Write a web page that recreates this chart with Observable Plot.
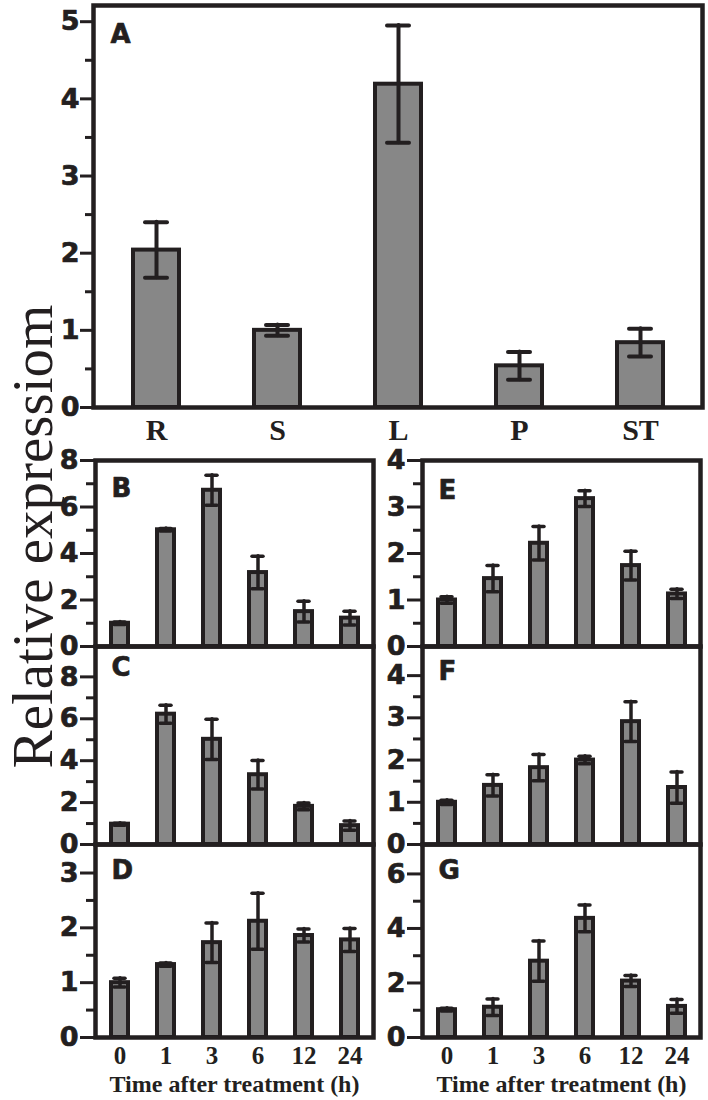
<!DOCTYPE html>
<html><head><meta charset="utf-8">
<script src="https://cdn.jsdelivr.net/npm/d3@7"></script>
<script src="https://cdn.jsdelivr.net/npm/@observablehq/plot@0.6"></script>
<style>
body{margin:0;background:#fff;}
#fig{position:relative;width:708px;height:1100px;overflow:hidden;background:#fff;}
#fig svg{position:absolute;}
</style></head><body><div id="fig"></div>
<script>
const INK = "#231f20";
const FILL = "#878787";

// Panel A: tissues
const tissues = ["R", "S", "L", "P", "ST"];
const tissueMean = [2.04, 1.00, 4.19, 0.54, 0.84];
const tissueErr  = [0.36, 0.07, 0.76, 0.18, 0.18];

// Panels B–G: time course
const times = ["0", "1", "3", "6", "12", "24"];
const meanB = [1.00, 5.02, 6.72, 3.18, 1.50, 1.22];
const errB  = [0.05, 0.05, 0.65, 0.70, 0.45, 0.30];
const meanC = [0.97, 6.22, 5.02, 3.33, 1.82, 0.90];
const errC  = [0.05, 0.43, 0.96, 0.68, 0.16, 0.22];
const meanD = [1.00, 1.33, 1.73, 2.12, 1.86, 1.78];
const errD  = [0.08, 0.03, 0.36, 0.51, 0.12, 0.21];
const meanE = [1.00, 1.46, 2.22, 3.18, 1.74, 1.13];
const errE  = [0.07, 0.28, 0.36, 0.17, 0.31, 0.10];
const meanF = [1.00, 1.40, 1.82, 2.00, 2.91, 1.35];
const errF  = [0.05, 0.25, 0.31, 0.09, 0.47, 0.37];
const meanG = [1.02, 1.11, 2.80, 4.37, 2.07, 1.14];
const errG  = [0.05, 0.30, 0.74, 0.49, 0.20, 0.25];

const yTitle = "Relative expressiom";
const xTitle = "Time after treatment (h)";

function rows(cats, means, errs) {
  return cats.map((c, i) => ({c, v: means[i], lo: means[i] - errs[i], hi: means[i] + errs[i]}));
}

const SANS = "DejaVu Sans, Liberation Sans, Arial, sans-serif";
const SERIF = "Liberation Serif, Times New Roman, serif";

function panel(cfg) {
  const data = rows(cfg.cats, cfg.means, cfg.errs);
  const fw = cfg.frameW, fh = cfg.frameH;
  const width = cfg.mL + fw + cfg.mR;
  const height = cfg.mT + fh + cfg.mB;
  const marks = [
    Plot.barY(data, {x: "c", y: "v", fill: FILL, stroke: INK, strokeWidth: cfg.barSW}),
    Plot.ruleX(data, {x: "c", y1: "lo", y2: "hi", stroke: INK, strokeWidth: cfg.errSW, strokeLinecap: "round"}),
    Plot.tickY(data, {x: "c", y: "hi", stroke: INK, strokeWidth: cfg.errSW, strokeLinecap: "round", inset: cfg.capInset}),
    Plot.tickY(data, {x: "c", y: "lo", stroke: INK, strokeWidth: cfg.errSW, strokeLinecap: "round", inset: cfg.capInset}),
    Plot.frame({stroke: INK, strokeWidth: 4.5}),
    Plot.axisY({ticks: cfg.minor, tickSize: cfg.minorSize, fill: "none", stroke: INK, strokeWidth: 3, label: null}),
    Plot.axisY({ticks: cfg.major, tickSize: cfg.majorSize, tickPadding: cfg.tickPad, stroke: INK, strokeWidth: 3,
      fill: INK, textStroke: INK, textStrokeWidth: 0.7, fontSize: cfg.yFont, fontWeight: "bold", fontFamily: SANS,
      tickFormat: d => String(d), label: null}),
    Plot.text([cfg.letter], {frameAnchor: "top-left", dx: cfg.letterDx, dy: cfg.letterDy, textAnchor: "start",
      lineAnchor: "middle", fontSize: 26, fontWeight: "bold", fontFamily: SANS, fill: INK,
      stroke: INK, strokeWidth: 0.7})
  ];
  if (cfg.showX) {
    marks.push(Plot.axisX({tickSize: 0, tickPadding: cfg.xPad, fill: INK, fontSize: cfg.xFont, fontWeight: "bold",
      fontFamily: SERIF, label: null}));
  }
  if (cfg.xTitle) {
    marks.push(Plot.text([cfg.xTitle], {frameAnchor: "bottom", dy: cfg.xTitleDy, lineAnchor: "middle",
      fontSize: 24, fontWeight: "bold", fontFamily: SERIF, fill: INK}));
  }
  if (cfg.yTitle) {
    marks.push(Plot.text([cfg.yTitle], {frameAnchor: "left", dx: cfg.yTitleDx, dy: cfg.yTitleDy, rotate: -90,
      textAnchor: "middle", lineAnchor: "middle", fontSize: 57, fontFamily: SERIF, fill: INK}));
  }
  const chart = Plot.plot({
    width, height,
    marginLeft: cfg.mL, marginRight: cfg.mR, marginTop: cfg.mT, marginBottom: cfg.mB,
    style: {background: "transparent", overflow: "visible", color: INK},
    x: {type: "band", domain: cfg.cats, paddingInner: cfg.pIn, paddingOuter: cfg.pIn / 2, label: null,
        axis: cfg.showX ? undefined : null},
    y: {domain: cfg.domainY, label: null},
    marks
  });
  chart.style.left = (cfg.left - cfg.mL) + "px";
  chart.style.top = (cfg.top - cfg.mT) + "px";
  document.getElementById("fig").appendChild(chart);
}

// Panel A
panel({cats: tissues, means: tissueMean, errs: tissueErr,
  left: 93, top: 5, frameW: 609, frameH: 402, mL: 93, mR: 6, mT: 5, mB: 43,
  domainY: [0, 5.21], major: [0, 1, 2, 3, 4, 5], minor: [0.5, 1.5, 2.5, 3.5, 4.5],
  majorSize: 13, minorSize: 8, tickPad: 1, yFont: 27,
  letter: "A", letterDx: 17, letterDy: 29,
  pIn: 0.62, barSW: 4, errSW: 4, capInset: 12,
  showX: true, xPad: 11.5, xFont: 30});

const colL = {left: 95, frameW: 278, mL: 95, mR: 7};
const colR = {left: 422, frameW: 278, mL: 42, mR: 8};
const rowsY = [
  {top: 460, frameH: 186},
  {top: 646, frameH: 198},
  {top: 844, frameH: 193}
];
const common = {cats: times, pIn: 0.634, barSW: 4, errSW: 3.5, capInset: 3, majorSize: 15, minorSize: 9,
  tickPad: 2, yFont: 27, letterDx: 16, mT: 20, xPad: 8.75, xFont: 25};

panel({...common, ...colL, ...rowsY[0], mB: 20, means: meanB, errs: errB,
  domainY: [0, 8], major: [0, 2, 4, 6, 8], minor: [1, 3, 5, 7], letter: "B", letterDy: 28.5});
panel({...common, ...colL, ...rowsY[1], mB: 20, means: meanC, errs: errC,
  domainY: [0, 9.45], major: [0, 2, 4, 6, 8], minor: [1, 3, 5, 7], letter: "C", letterDy: 21,
  yTitle: yTitle, yTitleDx: -62, yTitleDy: -209});
panel({...common, ...colL, ...rowsY[2], mB: 63, means: meanD, errs: errD,
  domainY: [0, 3.52], major: [0, 1, 2, 3], minor: [0.5, 1.5, 2.5], letter: "D", letterDy: 26,
  showX: true, xTitle: xTitle, xTitleDy: 47});
panel({...common, ...colR, ...rowsY[0], mB: 20, means: meanE, errs: errE,
  domainY: [0, 4], major: [0, 1, 2, 3, 4], minor: [0.5, 1.5, 2.5, 3.5], letter: "E", letterDy: 30});
panel({...common, ...colR, ...rowsY[1], mB: 20, means: meanF, errs: errF,
  domainY: [0, 4.69], major: [0, 1, 2, 3, 4], minor: [0.5, 1.5, 2.5, 3.5], letter: "F", letterDy: 25});
panel({...common, ...colR, ...rowsY[2], mB: 63, means: meanG, errs: errG,
  domainY: [0, 7.08], major: [0, 2, 4, 6], minor: [1, 3, 5], letter: "G", letterDy: 26,
  showX: true, xTitle: xTitle, xTitleDy: 47});
</script>
</body></html>
